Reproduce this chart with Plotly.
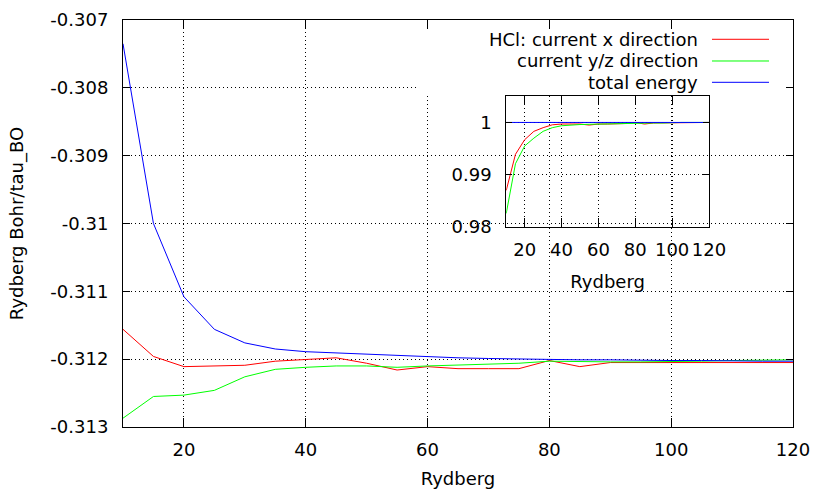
import plotly.graph_objects as go

# ---------------- data ----------------
rydberg = [10, 15, 20, 25, 30, 35, 40, 45, 50, 55, 60, 65, 70, 75, 80, 85, 90, 95, 100, 105, 110, 115, 120]

current_x = [-0.31156, -0.31196, -0.31211, -0.31210, -0.31209, -0.31203, -0.31201, -0.31198, -0.31206,
             -0.31216, -0.31211, -0.31214, -0.31214, -0.31214, -0.31202, -0.31211, -0.31205, -0.31205,
             -0.31204, -0.31204, -0.31205, -0.31205, -0.31205]

current_yz = [-0.31287, -0.31255, -0.31253, -0.31246, -0.31226, -0.31215, -0.31212, -0.31210, -0.31210,
              -0.31212, -0.31210, -0.31209, -0.31208, -0.31206, -0.31203, -0.31204, -0.31204, -0.31204,
              -0.31204, -0.31203, -0.31202, -0.31201, -0.31201]

total_energy = [-0.30735, -0.31000, -0.31108, -0.31156, -0.31176, -0.31185, -0.31189, -0.31191, -0.31193,
                -0.31195, -0.31197, -0.31198, -0.31199, -0.31200, -0.31201, -0.31201, -0.31201, -0.31202,
                -0.31202, -0.31202, -0.31203, -0.31203, -0.31203]

# inset: values normalised to the converged value
ratio_x = [0.9870, 0.9939, 0.9967, 0.9983, 0.9990, 0.99955, 0.9997, 0.9997, 0.9997, 0.9995, 0.9997,
           0.9997, 0.9997, 0.9998, 1.0000, 0.9997, 0.9999, 0.9999, 0.9999, 1.0000, 1.0000, 1.0000, 1.0000]
ratio_yz = [0.9826, 0.9921, 0.9955, 0.9970, 0.9983, 0.9990, 0.99937, 0.99955, 0.99960, 0.99965, 0.9997,
            0.9997, 0.9998, 0.9998, 0.9999, 0.9999, 0.9999, 0.9999, 1.0000, 1.0000, 1.0000, 1.0000, 1.0000]
ratio_total = [1.0, 1.0, 1.0, 1.0, 1.0, 1.0, 1.0, 1.0, 1.0, 1.0, 1.0, 1.0,
               1.0, 1.0, 1.0, 1.0, 1.0, 1.0, 1.0, 1.0, 1.0, 1.0, 1.0]

series_names = ["HCl: current x direction", "current y/z direction", "total energy"]
series_colors = ["#ff0000", "#00ff00", "#0000ff"]

main_xticks = [20, 40, 60, 80, 100, 120]
main_xticktext = ["20", "40", "60", "80", "100", "120"]
main_yticks = [-0.313, -0.312, -0.311, -0.310, -0.309, -0.308, -0.307]
main_yticktext = ["-0.313", "-0.312", "-0.311", "-0.31", "-0.309", "-0.308", "-0.307"]
inset_xticks = [20, 40, 60, 80, 100, 120]
inset_xticktext = ["20", "40", "60", "80", "100", "120"]
inset_yticks = [0.98, 0.99, 1.0]
inset_yticktext = ["0.98", "0.99", "1"]

FONT = "DejaVu Sans"
FS = 18

fig = go.Figure()
for ys, name, col in zip([current_x, current_yz, total_energy], series_names, series_colors):
    fig.add_trace(go.Scatter(x=rydberg, y=ys, mode="lines", name=name,
                             line=dict(color=col, width=1), showlegend=False,
                             xaxis="x", yaxis="y"))
for ys, name, col in zip([ratio_x, ratio_yz, ratio_total], series_names, series_colors):
    fig.add_trace(go.Scatter(x=rydberg, y=ys, mode="lines", name=name,
                             line=dict(color=col, width=1), showlegend=False,
                             xaxis="x2", yaxis="y2"))

axis_common = dict(showline=True, linecolor="black", linewidth=1, mirror="ticks",
                   ticks="inside", tickcolor="black", showgrid=True, gridcolor="#000000",
                   gridwidth=1, griddash="1px,3px", zeroline=False, automargin=False,
                   tickfont=dict(family=FONT, size=FS, color="black"))

fig.update_layout(
    width=813, height=489,
    margin=dict(l=123, r=20, t=20, b=62),
    paper_bgcolor="white", plot_bgcolor="rgba(0,0,0,0)",
    font=dict(family=FONT, size=FS, color="black"),
    showlegend=False,
    xaxis=dict(axis_common, range=[10, 120], tickvals=main_xticks, ticktext=main_xticktext,
               ticklen=9, ticklabelstandoff=6,
               title=dict(text="Rydberg", font=dict(family=FONT, size=FS), standoff=17)),
    yaxis=dict(axis_common, range=[-0.313, -0.307], tickvals=main_yticks, ticktext=main_yticktext,
               ticklen=7, ticklabelstandoff=10,
               title=dict(text="Rydberg Bohr/tau_BO", font=dict(family=FONT, size=FS), standoff=22)),
    xaxis2=dict(axis_common, domain=[0.572, 0.8746], anchor="y2", range=[10, 120],
                tickvals=inset_xticks, ticktext=inset_xticktext, ticklen=9, ticklabelstandoff=6,
                title=dict(text="Rydberg", font=dict(family=FONT, size=FS), standoff=16)),
    yaxis2=dict(axis_common, domain=[0.4914, 0.8125], anchor="x2", range=[0.98, 1.005],
                tickvals=inset_yticks, ticktext=inset_yticktext, ticklen=6, ticklabelstandoff=10),
)

# opaque key box hiding the main grid
fig.add_shape(type="rect", xref="x", yref="y", x0=58.6, x1=118.7, y0=-0.30809, y1=-0.30713,
              fillcolor="white", line=dict(width=0), layer="between")

# key: right-aligned labels with line samples on the right
key_y = [0.9526, 0.8993, 0.8469]
for name, col, ky in zip(series_names, series_colors, key_y):
    fig.add_annotation(xref="paper", yref="paper", x=0.8612, y=ky, text=name, showarrow=False,
                       xanchor="right", yanchor="middle", font=dict(family=FONT, size=FS, color="black"))
    fig.add_shape(type="line", xref="paper", yref="paper", x0=0.8791, x1=0.9642, y0=ky, y1=ky,
                  line=dict(color=col, width=1), layer="above")

# remove the default page margin so the figure sits at the window's top-left corner
fig.write_html("out.html", config={"displayModeBar": False},
               post_script="document.body.style.margin='0px';document.body.style.overflow='hidden';")
